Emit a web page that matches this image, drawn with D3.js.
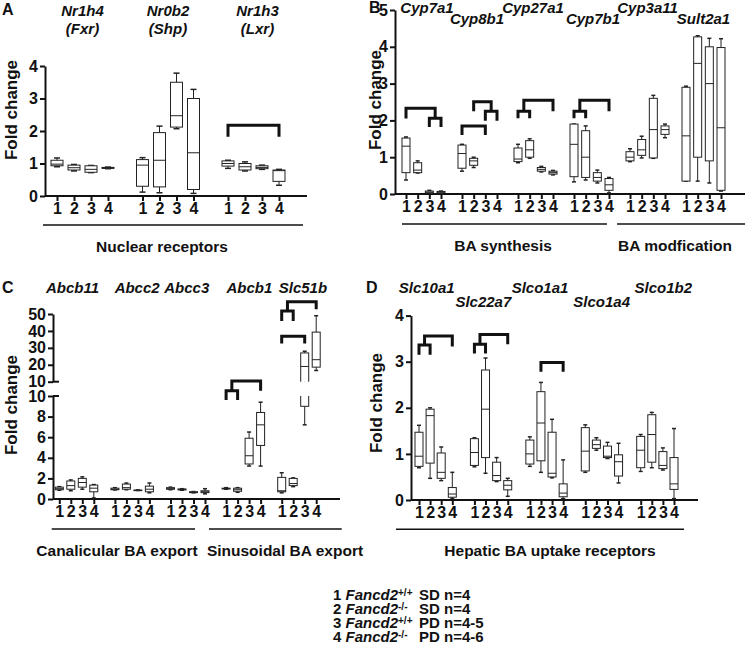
<!DOCTYPE html>
<html>
<head>
<meta charset="utf-8">
<script src="https://cdn.jsdelivr.net/npm/d3@7"></script>
<style>
body { margin: 0; background: #fff; }
svg text { font-family: "Liberation Sans", Arial, sans-serif; font-weight: bold; fill: #111; }
</style>
</head>
<body>
<svg id="fig" width="745" height="662"></svg>
<script>
// ---- data: each box is [min, q1, median, q3, max] for groups 1..4 ----
var groups = [1, 2, 3, 4];

var genesA = ['Nr1h4', 'Nr0b2', 'Nr1h3'];
var aliasA = ['(Fxr)', '(Shp)', '(Lxr)'];
var boxesA = [
    [[0.90, 0.93, 0.98, 1.10, 1.17], [0.77, 0.80, 0.87, 0.95, 0.97], [0.72, 0.73, 0.82, 0.93, 0.94], [0.84, 0.85, 0.86, 0.88, 0.89]],
    [[0.12, 0.30, 0.95, 1.12, 1.18], [0.10, 0.28, 1.10, 1.95, 2.15], [2.07, 2.12, 2.47, 3.50, 3.78], [0.08, 0.20, 1.33, 3.00, 3.28]],
    [[0.85, 0.92, 1.00, 1.08, 1.10], [0.77, 0.80, 0.90, 1.00, 1.05], [0.82, 0.84, 0.88, 0.93, 0.95], [0.33, 0.45, 0.78, 0.80, 0.82]]
];
// [gene, from group, to group, top, left leg end, right leg end]
var bracketsA = [[2, 1, 4, 2.18, 1.82, 1.82]];

var genesB = ['Cyp7a1', 'Cyp8b1', 'Cyp27a1', 'Cyp7b1', 'Cyp3a11', 'Sult2a1'];
var boxesB = [
    [[0.38, 0.58, 1.30, 1.52, 1.55], [0.57, 0.58, 0.65, 0.85, 0.90], [0.02, 0.03, 0.05, 0.08, 0.10], [0.02, 0.03, 0.05, 0.07, 0.08]],
    [[0.62, 0.70, 1.10, 1.33, 1.35], [0.72, 0.78, 0.90, 0.97, 1.00], null, null],
    [[0.85, 0.88, 0.95, 1.25, 1.35], [0.97, 1.00, 1.20, 1.45, 1.50], [0.60, 0.62, 0.67, 0.72, 0.75], [0.52, 0.54, 0.58, 0.62, 0.64]],
    [[0.33, 0.47, 1.35, 1.90, 1.90], [0.38, 0.45, 1.00, 1.72, 1.85], [0.30, 0.35, 0.45, 0.58, 0.65], [0.03, 0.10, 0.25, 0.42, 0.45]],
    [[0.88, 0.90, 1.00, 1.15, 1.23], [0.98, 1.05, 1.20, 1.48, 1.57], [0.97, 0.98, 1.75, 2.60, 2.68], [1.53, 1.62, 1.75, 1.85, 1.90]],
    [[0.35, 0.35, 1.58, 2.90, 2.93], [0.35, 1.00, 3.55, 4.27, 4.30], [0.30, 0.90, 3.00, 4.00, 4.23], [0.08, 0.10, 1.80, 3.98, 4.22]]
];
var bracketsB = [
    [0, 3, 4, 2.06, 1.82, 1.82], [0, 1, 3.5, 2.33, 2.05, 2.06],
    [1, 1, 3, 1.85, 1.60, 1.60], [1, 3, 4, 2.25, 1.99, 1.99], [1, 2, 3.5, 2.51, 2.25, 2.25],
    [2, 1, 2, 2.25, 2.06, 2.06], [2, 1.5, 4, 2.55, 2.25, 2.25],
    [3, 1, 2, 2.25, 2.06, 2.06], [3, 1.5, 4, 2.55, 2.25, 2.25]
];

var genesC = ['Abcb11', 'Abcc2', 'Abcc3', 'Abcb1', 'Slc51b'];
var boxesC = [
    [[0.85, 0.90, 1.00, 1.15, 1.20], [0.80, 0.95, 1.30, 1.75, 1.85], [0.95, 1.15, 1.60, 2.00, 2.15], [0.10, 0.70, 1.05, 1.35, 1.40]],
    [[0.88, 0.90, 0.95, 1.05, 1.10], [0.90, 0.95, 1.10, 1.45, 1.55], [0.83, 0.84, 0.85, 0.86, 0.87], [0.60, 0.70, 0.95, 1.25, 1.55]],
    [[0.90, 0.95, 1.00, 1.10, 1.15], [0.85, 0.88, 0.92, 0.98, 1.00], [0.60, 0.62, 0.66, 0.70, 0.72], [0.50, 0.62, 0.70, 0.80, 1.00]],
    [[0.95, 0.98, 1.00, 1.05, 1.10], [0.65, 0.75, 0.90, 1.05, 1.10], [3.20, 3.40, 4.20, 5.90, 6.50], [3.20, 5.20, 7.20, 8.40, 9.40]],
    [[0.60, 0.70, 0.80, 2.10, 2.55], [1.20, 1.30, 1.50, 2.00, 2.05], [7.20, 9.00, 19.0, 27.0, 28.0], [16.6, 18.6, 23.0, 39.3, 49.0]]
];
var bracketsCLow = [[3, 1, 2, 10.5, 9.6, 9.6], [3, 1.5, 4, 11.46, 10.5, 10.5]];
var bracketsCHigh = [[4, 1, 2, 51.8, 45.8, 45.8], [4, 1.5, 4, 57.2, 51.8, 52.8], [4, 1, 3, 36.9, 32.5, 32.5]];

var genesD = ['Slc10a1', 'Slc22a7', 'Slco1a1', 'Slco1a4', 'Slco1b2'];
var boxesD = [
    [[0.70, 0.73, 0.95, 1.47, 1.62], [0.47, 0.80, 1.83, 1.97, 2.00], [0.42, 0.47, 0.60, 1.02, 1.15], [0.03, 0.06, 0.13, 0.27, 0.60]],
    [[0.72, 0.75, 1.03, 1.33, 1.35], [0.58, 0.92, 1.97, 2.82, 3.08], [0.40, 0.42, 0.53, 0.82, 0.92], [0.08, 0.22, 0.32, 0.42, 0.47]],
    [[0.73, 0.78, 1.00, 1.30, 1.37], [0.60, 0.85, 1.67, 2.35, 2.55], [0.48, 0.50, 0.58, 1.47, 1.75], [0.03, 0.07, 0.15, 0.35, 0.87]],
    [[0.60, 0.63, 1.06, 1.57, 1.63], [1.08, 1.12, 1.20, 1.30, 1.35], [0.90, 0.92, 0.95, 1.17, 1.25], [0.37, 0.52, 0.83, 0.98, 1.23]],
    [[0.62, 0.70, 1.08, 1.38, 1.42], [0.70, 0.82, 1.42, 1.85, 1.90], [0.65, 0.68, 0.75, 1.05, 1.13], [0.03, 0.23, 0.35, 0.92, 1.55]]
];
var bracketsD = [
    [0, 1, 2, 3.36, 3.15, 3.15], [0, 1.5, 4, 3.56, 3.36, 3.33],
    [1, 1, 2, 3.38, 3.18, 3.18], [1, 1.5, 4, 3.59, 3.38, 3.38],
    [2, 2, 4, 2.98, 2.78, 2.78]
];

var legendGeno = ['+/+', '-/-', '+/+', '-/-'];
var legendDiet = ['SD n=4', 'SD n=4', 'PD n=4-5', 'PD n=4-6'];

var svg = d3.select('#fig');

// x position helper: genes spread evenly, groups 1-4 inside each gene
function makeX(genes, first, last, span) {
    var outer = d3.scalePoint().domain(genes).range([first, last]);
    var inner = d3.scaleLinear().domain([1, 4]).range([0, span]);
    return {
        outer: outer, inner: inner, span: span,
        pos: function (gi, b) { return outer(genes[gi]) + inner(b); }
    };
}

function flatten(boxes) {
    var out = [];
    boxes.forEach(function (grp, gi) {
        grp.forEach(function (s, bi) {
            if (s) out.push({gi: gi, b: bi + 1, s: s});
        });
    });
    return out;
}

function drawBoxes(g, boxes, x, y, w) {
    var cap = w * 0.5;
    var sel = g.selectAll('g.box')
        .data(flatten(boxes))
        .enter()
        .append('g')
        .attr('class', 'box')
        .attr('stroke', '#222')
        .attr('stroke-width', 1)
        .attr('fill', 'none');
    sel.append('line')
        .attr('x1', function (d) { return x.pos(d.gi, d.b); })
        .attr('x2', function (d) { return x.pos(d.gi, d.b); })
        .attr('y1', function (d) { return y(d.s[0]); })
        .attr('y2', function (d) { return y(d.s[4]); });
    [0, 4].forEach(function (k) {
        sel.append('line')
            .attr('x1', function (d) { return x.pos(d.gi, d.b) - cap / 2; })
            .attr('x2', function (d) { return x.pos(d.gi, d.b) + cap / 2; })
            .attr('y1', function (d) { return y(d.s[k]); })
            .attr('y2', function (d) { return y(d.s[k]); })
            .attr('stroke-width', 1.5);
    });
    sel.append('rect')
        .attr('x', function (d) { return x.pos(d.gi, d.b) - w / 2; })
        .attr('width', w)
        .attr('y', function (d) { return y(d.s[3]); })
        .attr('height', function (d) { return Math.max(0.5, y(d.s[1]) - y(d.s[3])); })
        .attr('fill', '#fff');
    sel.append('line')
        .attr('x1', function (d) { return x.pos(d.gi, d.b) - w / 2; })
        .attr('x2', function (d) { return x.pos(d.gi, d.b) + w / 2; })
        .attr('y1', function (d) { return y(d.s[2]); })
        .attr('y2', function (d) { return y(d.s[2]); });
}

function drawBrackets(g, list, x, y) {
    g.selectAll('path.br')
        .data(list)
        .enter()
        .append('path')
        .attr('class', 'br')
        .attr('d', function (d) {
            var xa = x.pos(d[0], d[1]), xb = x.pos(d[0], d[2]);
            return 'M' + xa + ',' + y(d[4]) + 'V' + y(d[3]) + 'H' + xb + 'V' + y(d[5]);
        })
        .attr('fill', 'none')
        .attr('stroke', '#111')
        .attr('stroke-width', 3);
}

function styleAxis(sel) {
    sel.selectAll('path').attr('stroke', '#111').attr('stroke-width', 2);
    sel.selectAll('line').attr('stroke', '#111').attr('stroke-width', 2);
    sel.selectAll('text').attr('font-size', 16).attr('font-family', '"Liberation Sans", Arial, sans-serif')
        .attr('font-weight', 'bold').attr('fill', '#111');
}

function yAxis(g, y, ax, ticks) {
    var a = g.append('g')
        .attr('transform', 'translate(' + ax + ',0)')
        .call(d3.axisLeft(y).tickValues(ticks).tickFormat(d3.format('d')).tickSize(5).tickSizeOuter(0).tickPadding(2));
    styleAxis(a);
    return a;
}

function xAxis(g, genes, x, y0, ax, xEnd) {
    g.append('line')
        .attr('x1', ax).attr('x2', xEnd)
        .attr('y1', y0).attr('y2', y0)
        .attr('stroke', '#111').attr('stroke-width', 2);
    genes.forEach(function (gene) {
        var a = g.append('g')
            .attr('transform', 'translate(' + x.outer(gene) + ',' + y0 + ')')
            .call(d3.axisBottom(x.inner).tickValues(groups).tickFormat(d3.format('d')).tickSize(5).tickSizeOuter(0).tickPadding(2));
        a.select('.domain').remove();
        styleAxis(a);
    });
}

function geneLabels(g, genes, x, dx, rows) {
    g.selectAll('text.gene')
        .data(genes)
        .enter()
        .append('text')
        .attr('class', 'gene')
        .attr('x', function (d, i) { return x.outer(d) + x.span / 2 + dx[i]; })
        .attr('y', function (d, i) { return rows[i]; })
        .attr('text-anchor', 'middle')
        .attr('font-size', 15)
        .attr('font-style', 'italic')
        .text(function (d) { return d; });
}

function categories(g, list, y0) {
    list.forEach(function (c) {
        g.append('line')
            .attr('x1', c[0]).attr('x2', c[1])
            .attr('y1', y0).attr('y2', y0)
            .attr('stroke', '#111').attr('stroke-width', 1.5);
        g.append('text')
            .attr('x', c[3]).attr('y', y0 + 27)
            .attr('text-anchor', 'middle')
            .attr('font-size', 15.5)
            .text(c[2]);
    });
}

function yLabel(g, x, y) {
    g.append('text')
        .attr('transform', 'translate(' + x + ',' + y + ') rotate(-90)')
        .attr('text-anchor', 'middle')
        .attr('font-size', 17)
        .text('Fold change');
}

function panelLetter(g, t, x, y) {
    g.append('text').attr('x', x).attr('y', y).attr('font-size', 16).text(t);
}

// ---- panel A ----
var gA = svg.append('g');
var xA = makeX(genesA, 57, 228, 51);
var yA = d3.scaleLinear().domain([0, 4]).range([196, 66]);
xAxis(gA, genesA, xA, yA(0), 45, 307);
yAxis(gA, yA, 45, [0, 1, 2, 3, 4]);
drawBoxes(gA, boxesA, xA, yA, 12);
drawBrackets(gA, bracketsA, xA, yA);
geneLabels(gA, genesA, xA, [0, 0, 4], [16, 16, 16]);
geneLabels(gA.append('g'), aliasA, makeX(aliasA, 57, 228, 51), [0, 0, 4], [34, 34, 34]);
categories(gA, [[43, 303, 'Nuclear receptors', 162]], 225);
yLabel(gA, 17, 110);
panelLetter(gA, 'A', 2, 15);

// ---- panel B ----
var gB = svg.append('g');
var xB = makeX(genesB, 406, 686, 35);
var yB = d3.scaleLinear().domain([0, 5]).range([194, 10]);
xAxis(gB, genesB, xB, yB(0), 395, 745);
yAxis(gB, yB, 395, [0, 1, 2, 3, 4, 5]);
drawBoxes(gB, boxesB, xB, yB, 8);
drawBrackets(gB, bracketsB, xB, yB);
geneLabels(gB, genesB, xB, [3.5, -2.5, -2.5, 1.5, 0, 0], [13, 24, 13, 24, 13, 24]);
categories(gB, [[402, 607, 'BA synthesis', 503], [617, 745, 'BA modfication', 675]], 224);
yLabel(gB, 381, 100);
panelLetter(gB, 'B', 369, 13);

// ---- panel C (broken axis) ----
var gC = svg.append('g');
var xC = makeX(genesC, 59.3, 281.7, 34.5);
var yCLow = d3.scaleLinear().domain([0, 10]).range([499, 396]);
var yCHigh = d3.scaleLinear().domain([10, 50]).range([381.7, 314]);
var defs = svg.append('defs');
defs.append('clipPath').attr('id', 'clipLow').append('rect')
    .attr('x', 50).attr('y', yCLow(10)).attr('width', 300).attr('height', 120);
defs.append('clipPath').attr('id', 'clipHigh').append('rect')
    .attr('x', 50).attr('y', 280).attr('width', 300).attr('height', yCHigh(10) - 280);
xAxis(gC, genesC, xC, yCLow(0), 53, 340);
yAxis(gC, yCLow, 53, [0, 2, 4, 6, 8, 10]);
yAxis(gC, yCHigh, 53, [10, 20, 30, 40, 50]);
[yCLow(10), yCHigh(10)].forEach(function (yy) {
    gC.append('line').attr('x1', 53).attr('x2', 59).attr('y1', yy).attr('y2', yy)
        .attr('stroke', '#111').attr('stroke-width', 2);
});
drawBoxes(gC.append('g').attr('clip-path', 'url(#clipLow)'), boxesC, xC, yCLow, 8);
drawBoxes(gC.append('g').attr('clip-path', 'url(#clipHigh)'), boxesC, xC, yCHigh, 8);
drawBrackets(gC.append('g'), bracketsCLow, xC, yCLow);
drawBrackets(gC.append('g'), bracketsCHigh, xC, yCHigh);
geneLabels(gC, genesC, xC, [-4, 5, -1, 6, 4], [293, 293, 293, 293, 293]);
categories(gC, [[51.7, 195, 'Canalicular BA export', 117], [209, 341.7, 'Sinusoidal BA export', 285]], 529);
yLabel(gC, 17, 405);
panelLetter(gC, 'C', 2, 293);

// ---- panel D ----
var gD = svg.append('g');
var xD = makeX(genesD, 419, 640.7, 33.3);
var yD = d3.scaleLinear().domain([0, 4]).range([500, 315.6]);
xAxis(gD, genesD, xD, yD(0), 411, 698);
yAxis(gD, yD, 411, [0, 1, 2, 3, 4]);
drawBoxes(gD, boxesD, xD, yD, 8);
drawBrackets(gD, bracketsD, xD, yD);
geneLabels(gD, genesD, xD, [-9, -7.7, -6.5, -0.3, 6], [293, 307, 293, 307, 293]);
categories(gD, [[396, 684, 'Hepatic BA uptake receptors', 550]], 529.3);
yLabel(gD, 382, 403);
panelLetter(gD, 'D', 366, 293);

// ---- legend ----
var gL = svg.append('g');
legendGeno.forEach(function (geno, i) {
    var yy = 600 + i * 14;
    var t = gL.append('text').attr('x', 333).attr('y', yy).attr('font-size', 15);
    t.append('tspan').text((i + 1) + ' ');
    t.append('tspan').attr('font-style', 'italic').text('Fancd2');
    t.append('tspan').attr('font-size', 10).attr('dy', -4).text(geno);
    gL.append('text').attr('x', 419).attr('y', yy).attr('font-size', 15).text(legendDiet[i]);
});
</script>
</body>
</html>
